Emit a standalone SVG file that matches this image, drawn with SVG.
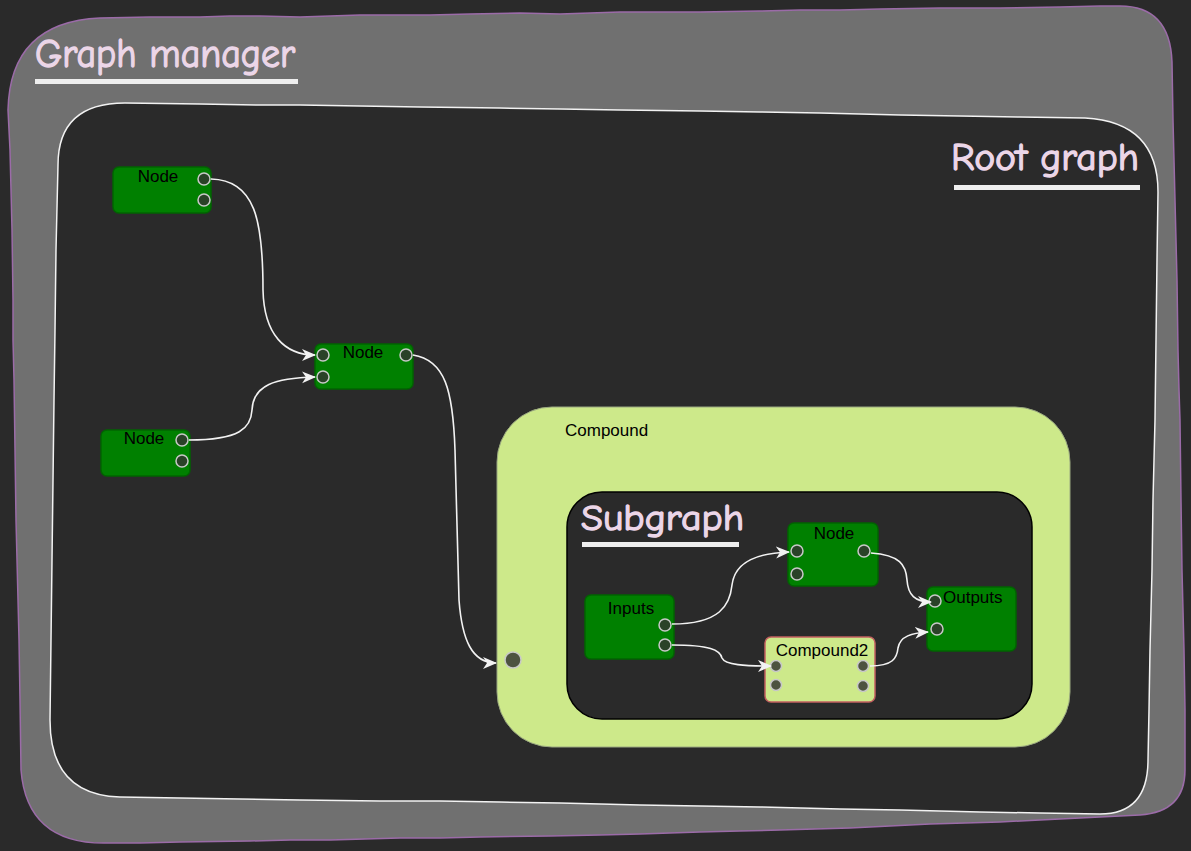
<svg xmlns="http://www.w3.org/2000/svg" width="1191" height="851" viewBox="0 0 1191 851">
<defs>
<style>
.title{font-family:"Comic Sans MS","Comic Neue","DejaVu Sans",sans-serif;fill:#ecd6e8;stroke:#ecd6e8;stroke-width:1.3;}
.uline{fill:#eeeeee;}
.node{fill:#008000;stroke:#006400;stroke-width:1.5;}
.cnode{fill:#cde98a;stroke:#c26060;stroke-width:1.5;}
.lbl{font-family:"Liberation Sans",Arial,sans-serif;font-size:17px;fill:#000;}
.port{fill:#2a4228;stroke:#c8c8c8;stroke-width:1.5;}
.cport{fill:#4d5340;stroke:#c8c8c8;stroke-width:1.5;}
.edge{fill:none;stroke:#f2f2f2;stroke-width:1.6;}
</style>
<marker id="arr" markerUnits="userSpaceOnUse" markerWidth="16" markerHeight="14" refX="13" refY="6" orient="auto">
<path d="M0,0 L14,6 L0,12 L4,6 z" fill="#f2f2f2"/>
</marker>
</defs>
<rect width="1191" height="851" fill="#2a2a2a"/>
<g id="graph-manager">
<path d="M8,110 Q10,22 100,18 L150,17 L200,17 L230,16 L260,16 L300,17 L330,16 L360,15 L400,15 L430,15 L470,14 L520,13 L560,14 L590,13 L620,12 L660,12 L700,12 L760,11 L800,10 L840,10 L880,9 L940,8 L970,8 L1000,8 L1060,7 L1100,6 L1120,6 Q1170,6 1172,62 L1173,120 L1174,160 L1175,200 L1176,240 L1177,280 L1178,350 L1179,390 L1180,420 L1181,500 L1182,570 L1183,610 L1184,650 L1185,710 L1185,770 Q1185,812 1140,815 L1080,818 L1040,820 L1000,822 L930,824 L890,826 L850,828 L780,830 L740,831 L700,832 L640,834 L600,835 L550,836 L480,837 L440,838 L400,838 L330,840 L290,840 L250,841 L180,842 L140,843 L110,843 Q27,846 21,770 L20,700 L19,640 L18,600 L17,560 L16,520 L15,450 L14,380 L13,340 L13,300 L12,230 L11,190 L10,150 Z" fill="#707070" stroke="#9b6ba8" stroke-width="1.5"/>
<text class="title" x="35" y="67" font-size="40" textLength="260" lengthAdjust="spacingAndGlyphs">Graph manager</text>
<rect class="uline" x="35" y="79" width="263" height="5"/>
</g>
<g id="root-graph">
<path d="M58,165 Q58,103 125,103 L200,104 L260,105 L300,105 L360,106 L420,107 L500,108 L560,109 L620,110 L700,111 L760,112 L820,113 L900,115 L960,116 L1020,117 L1085,118 Q1158,122 1158,192 L1157,260 L1156,340 L1155,420 L1153,500 L1152,570 L1150,650 L1149,710 L1148,760 Q1148,814 1100,814 L1040,813 L980,812 L900,810 L840,809 L760,807 L700,806 L640,805 L560,803 L500,802 L440,801 L380,801 L300,800 L240,799 L180,798 L120,797 Q50,795 50,720 L51,640 L52,560 L53,480 L54,400 L55,330 L56,250 Z" fill="#2a2a2a" stroke="#f2f2f2" stroke-width="1.5"/>
<text class="title" x="951" y="170" font-size="39" textLength="188" lengthAdjust="spacingAndGlyphs">Root graph</text>
<rect class="uline" x="954" y="185" width="186" height="5"/>
</g>
<g id="node-1">
<rect class="node" x="113" y="167" width="98" height="46" rx="6"/>
<text class="lbl" x="158" y="182" text-anchor="middle">Node</text>
<circle class="port" cx="204" cy="179" r="6"/>
<circle class="port" cx="204" cy="200" r="6"/>
</g>
<g id="node-2">
<rect class="node" x="315" y="344" width="98" height="45" rx="6"/>
<text class="lbl" x="363" y="358" text-anchor="middle">Node</text>
<circle class="port" cx="323" cy="355" r="6"/>
<circle class="port" cx="323" cy="377" r="6"/>
<circle class="port" cx="406" cy="355" r="6"/>
</g>
<g id="node-3">
<rect class="node" x="101" y="430" width="89" height="46" rx="6"/>
<text class="lbl" x="144" y="444" text-anchor="middle">Node</text>
<circle class="port" cx="182" cy="440" r="6"/>
<circle class="port" cx="182" cy="461" r="6"/>
</g>
<g id="compound">
<rect x="497" y="407" width="573" height="340" rx="55" fill="#cde98a" stroke="#9aa880" stroke-width="1"/>
<text class="lbl" x="565" y="436">Compound</text>
<circle class="cport" cx="513" cy="660" r="8"/>
</g>
<g id="subgraph">
<rect x="567" y="492" width="465" height="227" rx="35" fill="#2a2a2a" stroke="#000" stroke-width="1.5"/>
<text class="title" x="581" y="530" font-size="37" textLength="163" lengthAdjust="spacingAndGlyphs">Subgraph</text>
<rect class="uline" x="582" y="542" width="157" height="5"/>
</g>
<g id="sub-node">
<rect class="node" x="788" y="523" width="90" height="63" rx="6"/>
<text class="lbl" x="834" y="539" text-anchor="middle">Node</text>
<circle class="port" cx="797" cy="551" r="6"/>
<circle class="port" cx="797" cy="574" r="6"/>
<circle class="port" cx="864" cy="551" r="6"/>
</g>
<g id="outputs">
<rect class="node" x="927" y="587" width="89" height="64" rx="6"/>
<text class="lbl" x="943" y="603">Outputs</text>
<circle class="port" cx="935" cy="601" r="6"/>
<circle class="port" cx="937" cy="629" r="6"/>
</g>
<g id="inputs">
<rect class="node" x="585" y="595" width="89" height="64" rx="6"/>
<text class="lbl" x="631" y="614" text-anchor="middle">Inputs</text>
<circle class="port" cx="665" cy="625" r="6"/>
<circle class="port" cx="665" cy="645" r="6"/>
</g>
<g id="compound2">
<rect class="cnode" x="765" y="637" width="110" height="65" rx="6"/>
<text class="lbl" x="822" y="656" text-anchor="middle">Compound2</text>
<circle class="cport" cx="776" cy="666" r="5.5"/>
<circle class="cport" cx="776" cy="685" r="5.5"/>
<circle class="cport" cx="863" cy="666" r="5.5"/>
<circle class="cport" cx="863" cy="686" r="5.5"/>
</g>
<g id="connectors">
<path class="edge" marker-end="url(#arr)" d="M211,179 C255,180 263,220 263,290 C264,335 285,355 315,355"/>
<path class="edge" marker-end="url(#arr)" d="M189,440 C240,440 251,428 252,410 C253,385 275,378 315,377"/>
<path class="edge" marker-end="url(#arr)" d="M413,355 C445,360 453,390 455,450 L459,600 C462,640 472,663 496,663"/>
<path class="edge" marker-end="url(#arr)" d="M672,624 C720,624 730,605 732,585 C735,560 760,553 789,552"/>
<path class="edge" marker-end="url(#arr)" d="M672,645 C710,645 720,650 722,658 C725,665 745,666 771,666"/>
<path class="edge" marker-end="url(#arr)" d="M871,553 C900,555 906,565 907,580 C908,595 915,602 931,602"/>
<path class="edge" marker-end="url(#arr)" d="M870,666 C893,666 897,658 898,648 C900,636 912,633 928,632"/>
</g>
</svg>
